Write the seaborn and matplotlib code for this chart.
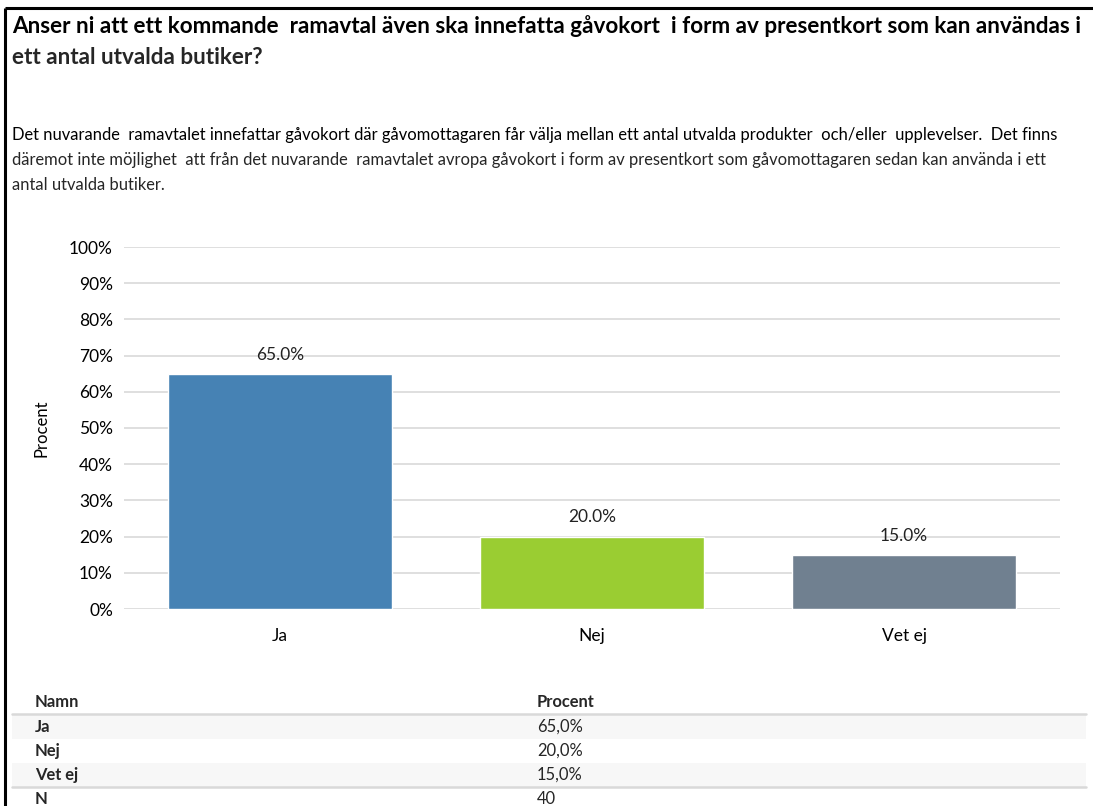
import matplotlib
matplotlib.use("Agg")
import matplotlib.pyplot as plt
import seaborn as sns
import pandas as pd

categories = ["Ja", "Nej", "Vet ej"]
values = [65.0, 20.0, 15.0]
colors = ["#4682B4", "#9ACD32", "#708090"]
yticks = [0, 10, 20, 30, 40, 50, 60, 70, 80, 90, 100]
table_rows = ["Ja", "Nej", "Vet ej", "N"]
table_vals = ["65,0%", "20,0%", "15,0%", "40"]

title_lines = ["Anser ni att ett kommande  ramavtal även ska innefatta gåvokort  i form av presentkort som kan användas i",
               "ett antal utvalda butiker?"]
desc_lines = ["Det nuvarande  ramavtalet innefattar gåvokort där gåvomottagaren får välja mellan ett antal utvalda produkter  och/eller  upplevelser.  Det finns",
              "däremot inte möjlighet  att från det nuvarande  ramavtalet avropa gåvokort i form av presentkort som gåvomottagaren sedan kan använda i ett",
              "antal utvalda butiker."]

sns.set_theme(style="white")
FONT = "Lato"
plt.rcParams['font.family'] = [FONT, 'DejaVu Sans']

W, H = 1093, 806
fig = plt.figure(figsize=(W / 100, H / 100), dpi=100)
fig.patch.set_facecolor("white")

# overlay in pixel coordinates
ov = fig.add_axes([0, 0, 1, 1])
ov.set_xlim(0, W)
ov.set_ylim(H, 0)
ov.axis("off")
ov.patch.set_alpha(0)

# frame lines
ov.plot([5, W], [8, 8], color="black", lw=2.2, solid_capstyle="butt")
ov.plot([5, 5], [8, H], color="black", lw=2.2, solid_capstyle="butt")

renderer = fig.canvas.get_renderer()

def fit_text(x, y, s, target_w, weight="normal", base=12):
    t = ov.text(x, y, s, fontsize=base, fontweight=weight, ha="left", va="center", color="black")
    bb = t.get_window_extent(renderer=renderer)
    t.set_fontsize(base * target_w / bb.width)
    return t

t1 = fit_text(12, 26, title_lines[0], 1064, weight="bold")
tfs = t1.get_fontsize()
ov.text(12, 58, title_lines[1], fontsize=tfs, fontweight="bold", ha="left", va="center")

d1 = fit_text(12, 135, desc_lines[0], 1043)
dfs = d1.get_fontsize()
ov.text(12, 160, desc_lines[1], fontsize=dfs, ha="left", va="center")
ov.text(12, 185, desc_lines[2], fontsize=dfs, ha="left", va="center")

# chart
ax = fig.add_axes([124 / W, 1 - 609 / H, 936 / W, (609 - 247) / H])
df = pd.DataFrame({"Namn": categories, "Procent": values})
sns.barplot(data=df, x="Namn", y="Procent", hue="Namn", palette=colors,
            width=0.715, saturation=1, legend=False, ax=ax, zorder=3)
ax.set_xlim(-0.5, len(categories) - 0.5)
ax.set_ylim(0, 100)
ax.set_yticks(yticks)
ax.set_yticklabels([f"{v}%" for v in yticks], fontsize=12.5, color="black")
ax.tick_params(axis="x", labelsize=12.5, pad=14, length=0, colors="black")
ax.tick_params(axis="y", pad=8, length=0)
ax.grid(axis="y", color="#d9d9d9", lw=1.2, zorder=0)
ax.set_axisbelow(True)
for s in ax.spines.values():
    s.set_visible(False)
ax.set_xlabel("")
ax.set_ylabel("Procent", fontsize=12, labelpad=14, color="black")
for c in ax.containers:
    ax.bar_label(c, labels=[f"{v:.1f}%" for v in c.datavalues], padding=8, fontsize=12.5, color="#222222")

# table
row_y = [727, 751, 775, 799]
ov.text(35, 702, "Namn", fontsize=dfs, fontweight="bold", ha="left", va="center")
ov.text(537, 702, "Procent", fontsize=dfs, fontweight="bold", ha="left", va="center")
for i, (name, val) in enumerate(zip(table_rows, table_vals)):
    y = row_y[i]
    if i in (0, 2):
        ov.add_patch(plt.Rectangle((12, y - 12), 1074, 24, color="#f7f7f7", zorder=0, lw=0))
    ov.text(35, y, name, fontsize=dfs, fontweight="bold", ha="left", va="center")
    ov.text(537, y, val, fontsize=dfs, ha="left", va="center")
ov.plot([12, 1086], [714, 714], color="#d9d9d9", lw=1.8)
ov.plot([12, 1086], [787, 787], color="#d9d9d9", lw=1.8)

fig.savefig("out.png", dpi=100, facecolor="white")
